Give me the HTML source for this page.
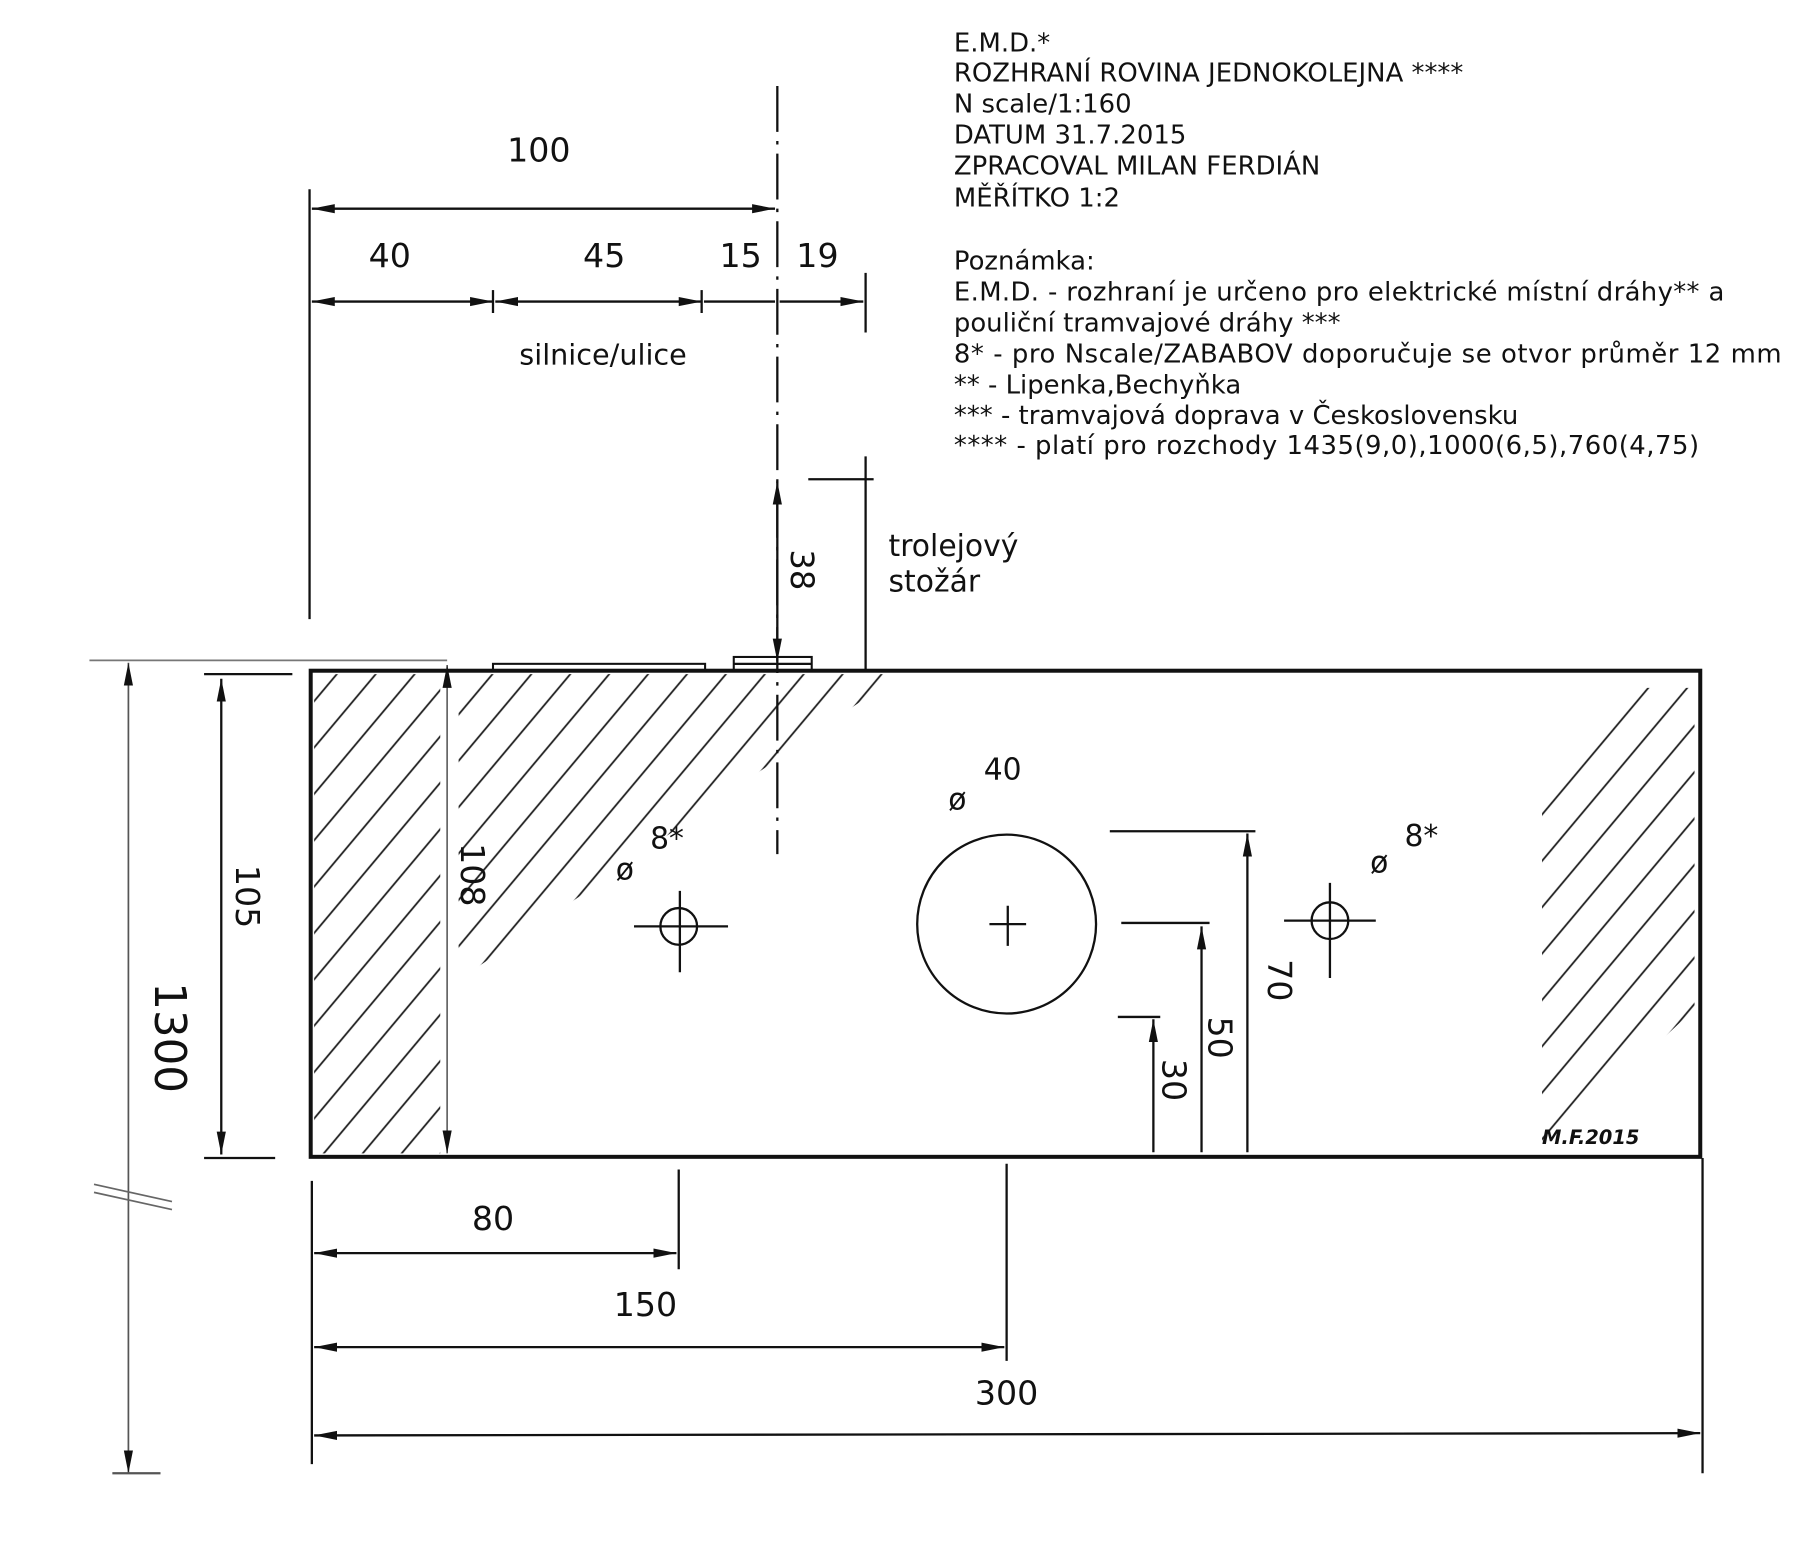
<!DOCTYPE html>
<html><head><meta charset="utf-8"><style>
html,body{margin:0;padding:0;background:#fff;}
svg{display:block;}
text{font-family:"DejaVu Sans","Liberation Sans",sans-serif;fill:#111;}
</style></head><body>
<svg width="1800" height="1565" viewBox="0 0 1570 1365" xmlns="http://www.w3.org/2000/svg">
<defs>
<pattern id="h" patternUnits="userSpaceOnUse" width="26" height="26" patternTransform="rotate(40)">
<line x1="5" y1="0" x2="5" y2="26" stroke="#222" stroke-width="1.6"/>
</pattern>
<marker id="a" viewBox="0 0 20 10" refX="20" refY="5" markerWidth="20" markerHeight="10" markerUnits="userSpaceOnUse" orient="auto-start-reverse">
<path d="M0,1 L20,5 L0,9 z" fill="#111"/>
</marker>
</defs>
<rect width="1570" height="1365" fill="#fff"/>

<g font-size="22.6">
<text x="832" y="45">E.M.D.*</text>
<text x="832" y="71">ROZHRANÍ ROVINA JEDNOKOLEJNA ****</text>
<text x="832" y="98">N scale/1:160</text>
<text x="832" y="125">DATUM 31.7.2015</text>
<text x="832" y="152">ZPRACOVAL MILAN FERDIÁN</text>
<text x="832" y="180">MĚŘÍTKO 1:2</text>
<text x="832" y="235">Poznámka:</text>
<text x="832" y="262" textLength="672" lengthAdjust="spacing">E.M.D. - rozhraní je určeno pro elektrické místní dráhy** a</text>
<text x="832" y="289">pouliční tramvajové dráhy ***</text>
<text x="832" y="316" textLength="722" lengthAdjust="spacing">8* - pro Nscale/ZABABOV doporučuje se  otvor průměr 12 mm</text>
<text x="832" y="343">**  - Lipenka,Bechyňka</text>
<text x="832" y="370">*** - tramvajová doprava v Československu</text>
<text x="832" y="396" textLength="650" lengthAdjust="spacing">**** - platí pro rozchody 1435(9,0),1000(6,5),760(4,75)</text>
</g>

<rect x="274" y="588" width="110" height="418" fill="url(#h)"/>
<polygon points="400,588 785,588 400,855" fill="url(#h)"/>
<polygon points="1345,700 1420,600 1478,600 1478,880 1350,1000 1345,1000" fill="url(#h)"/>

<rect x="271" y="585" width="1212" height="424" fill="none" stroke="#111" stroke-width="3.5"/>

<g stroke="#111" stroke-width="2" fill="none">
<line x1="678" y1="75" x2="678" y2="745" stroke-dasharray="40,8,3,8"/>
<line x1="270" y1="165" x2="270" y2="540"/>
<line x1="272" y1="182" x2="676" y2="182" marker-start="url(#a)" marker-end="url(#a)"/>
<line x1="272" y1="263" x2="430" y2="263" marker-start="url(#a)" marker-end="url(#a)"/>
<line x1="432" y1="263" x2="612" y2="263" marker-start="url(#a)" marker-end="url(#a)"/>
<line x1="614" y1="263" x2="676" y2="263"/>
<line x1="680" y1="263" x2="753" y2="263" marker-end="url(#a)"/>
<line x1="430" y1="253" x2="430" y2="273"/>
<line x1="612" y1="253" x2="612" y2="273"/>
<line x1="755" y1="238" x2="755" y2="290"/>
<line x1="755" y1="398" x2="755" y2="584"/>
<line x1="705" y1="418" x2="762" y2="418"/>
<line x1="678" y1="420" x2="678" y2="577" marker-start="url(#a)" marker-end="url(#a)"/>
<rect x="430" y="579" width="185" height="6" stroke-width="1.8"/>
<rect x="640" y="573" width="68" height="12" stroke-width="1.8"/>
<line x1="640" y1="579" x2="708" y2="579"/>
<line x1="78" y1="576" x2="390" y2="576" stroke="#777" stroke-width="1.5"/>
<line x1="112" y1="578" x2="112" y2="1285" stroke="#555" stroke-width="1.5" marker-start="url(#a)" marker-end="url(#a)"/>
<line x1="98" y1="1285" x2="140" y2="1285" stroke="#555"/>
<line x1="82" y1="1040" x2="150" y2="1055" stroke="#666" stroke-width="1.5"/>
<line x1="82" y1="1033" x2="150" y2="1048" stroke="#666" stroke-width="1.5"/>
<line x1="178" y1="588" x2="255" y2="588"/>
<line x1="178" y1="1010" x2="240" y2="1010"/>
<line x1="193" y1="592" x2="193" y2="1007" marker-start="url(#a)" marker-end="url(#a)"/>
<line x1="390" y1="580" x2="390" y2="1006" stroke="#666" stroke-width="1.5" marker-start="url(#a)" marker-end="url(#a)"/>
<circle cx="878" cy="806" r="78"/>
<line x1="863" y1="806" x2="895" y2="806"/><line x1="879" y1="790" x2="879" y2="825"/>
<circle cx="592" cy="808" r="16"/>
<line x1="553" y1="808" x2="635" y2="808"/><line x1="593" y1="777" x2="593" y2="848"/>
<circle cx="1160" cy="803" r="16"/>
<line x1="1120" y1="803" x2="1200" y2="803"/><line x1="1160" y1="770" x2="1160" y2="853"/>
<line x1="968" y1="725" x2="1095" y2="725"/>
<line x1="1088" y1="727" x2="1088" y2="1005" marker-start="url(#a)"/>
<line x1="978" y1="805" x2="1055" y2="805"/>
<line x1="1048" y1="808" x2="1048" y2="1005" marker-start="url(#a)"/>
<line x1="975" y1="887" x2="1012" y2="887"/>
<line x1="1006" y1="889" x2="1006" y2="1005" marker-start="url(#a)"/>
<line x1="272" y1="1030" x2="272" y2="1277"/>
<line x1="592" y1="1020" x2="592" y2="1107"/>
<line x1="878" y1="1015" x2="878" y2="1187"/>
<line x1="1485" y1="1010" x2="1485" y2="1285"/>
<line x1="274" y1="1093" x2="590" y2="1093" marker-start="url(#a)" marker-end="url(#a)"/>
<line x1="274" y1="1175" x2="876" y2="1175" marker-start="url(#a)" marker-end="url(#a)"/>
<line x1="274" y1="1252" x2="1483" y2="1250" marker-start="url(#a)" marker-end="url(#a)"/>
</g>

<g>
<text x="470" y="141" font-size="29" text-anchor="middle">100</text>
<text x="340" y="233" font-size="29" text-anchor="middle">40</text>
<text x="527" y="233" font-size="29" text-anchor="middle">45</text>
<text x="646" y="233" font-size="29" text-anchor="middle">15</text>
<text x="713" y="233" font-size="29" text-anchor="middle">19</text>
<text x="526" y="318" font-size="25" text-anchor="middle">silnice/ulice</text>
<text x="775" y="485" font-size="26">trolejový</text>
<text x="775" y="516" font-size="26">stožár</text>
<text transform="translate(690,497) rotate(90)" font-size="28" text-anchor="middle">38</text>
<text transform="translate(135,905) rotate(90)" font-size="38" text-anchor="middle">1300</text>
<text transform="translate(206,782) rotate(90)" font-size="29" text-anchor="middle">105</text>
<text transform="translate(402,763) rotate(90)" font-size="29" text-anchor="middle">108</text>
<text transform="translate(1106,855) rotate(90)" font-size="29" text-anchor="middle">70</text>
<text transform="translate(1054,905) rotate(90)" font-size="29" text-anchor="middle">50</text>
<text transform="translate(1014,942) rotate(90)" font-size="29" text-anchor="middle">30</text>
<text x="835" y="706" font-size="26" text-anchor="middle">ø</text>
<text x="858" y="680" font-size="26">40</text>
<text x="545" y="767" font-size="26" text-anchor="middle">ø</text>
<text x="567" y="740" font-size="26">8*</text>
<text x="1203" y="761" font-size="26" text-anchor="middle">ø</text>
<text x="1225" y="738" font-size="26">8*</text>
<text x="430" y="1073" font-size="29" text-anchor="middle">80</text>
<text x="563" y="1148" font-size="29" text-anchor="middle">150</text>
<text x="878" y="1225" font-size="29" text-anchor="middle">300</text>
<text x="1345" y="998" font-size="17" font-style="italic" font-weight="bold">M.F.2015</text>
</g>
</svg>
</body></html>
